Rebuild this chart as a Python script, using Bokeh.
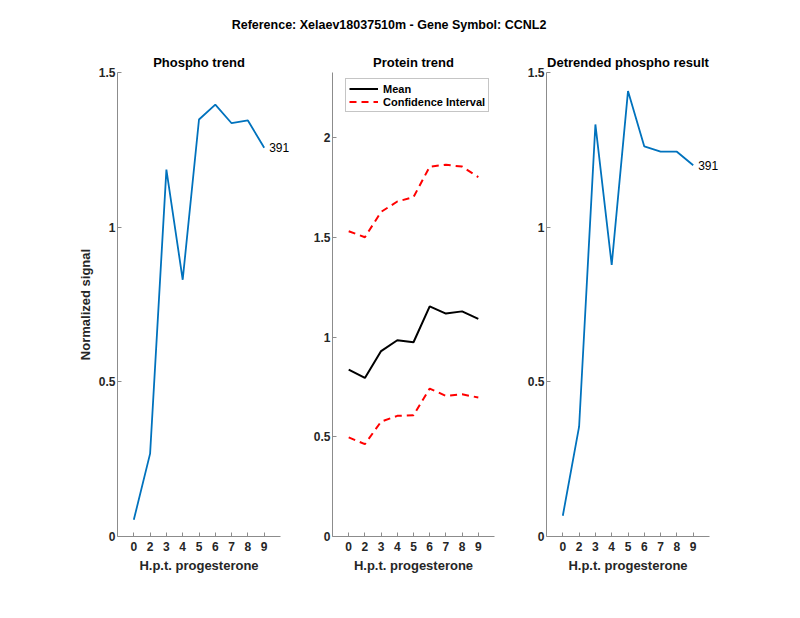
from bokeh.plotting import figure
from bokeh.layouts import column, row
from bokeh.models import Range1d, FixedTicker, Legend, LegendItem
from bokeh.core.properties import value
from bokeh.embed import file_html
from bokeh.resources import INLINE

# ---------------- data ----------------
suptitle = "Reference:  Xelaev18037510m - Gene Symbol:  CCNL2"
hpt_labels = ["0", "2", "3", "4", "5", "6", "7", "8", "9"]
phospho = [0.054, 0.268, 1.186, 0.830, 1.348, 1.396, 1.336, 1.345, 1.257]
protein_mean = [0.837, 0.795, 0.930, 0.984, 0.974, 1.154, 1.118, 1.129, 1.091]
ci_upper = [1.531, 1.501, 1.628, 1.680, 1.702, 1.855, 1.864, 1.855, 1.802]
ci_lower = [0.497, 0.463, 0.576, 0.605, 0.608, 0.742, 0.705, 0.713, 0.697]
detrended = [0.067, 0.355, 1.332, 0.878, 1.440, 1.261, 1.244, 1.244, 1.200]
site_label = "391"
phospho_yticks = [0, 0.5, 1, 1.5]
protein_yticks = [0, 0.5, 1, 1.5, 2]
phospho_ymax = 1.5
protein_ymax = 2.327

x = list(range(1, len(hpt_labels) + 1))

FONT = "Liberation Sans"
AX = "#8c8c8c"
TXT = "#262626"
BLUE = "#0072BD"
ROW_H = 562


def panel(width, left, right, y_end, yticks, title):
    p = figure(width=width, height=ROW_H, x_range=Range1d(0, 10), y_range=Range1d(0, y_end),
               output_backend="svg", toolbar_location=None,
               min_border_left=left, min_border_right=right,
               min_border_top=32, min_border_bottom=ROW_H - 32 - 464)
    p.outline_line_color = None
    p.xgrid.visible = False
    p.ygrid.visible = False
    p.title.text = title
    p.title.text_font = FONT
    p.title.text_font_size = "13px"
    p.title.text_font_style = "bold"
    p.title.text_color = "#000000"
    p.title.align = "center"
    p.title.standoff = 5
    for ax in (p.xaxis[0], p.yaxis[0]):
        ax.axis_line_color = AX
        ax.major_tick_line_color = AX
        ax.major_tick_in = 4
        ax.major_tick_out = 0
        ax.minor_tick_line_color = None
        ax.major_label_text_font = FONT
        ax.major_label_text_font_size = "12px"
        ax.major_label_text_font_style = "bold"
        ax.major_label_text_color = TXT
        ax.axis_label_text_font = FONT
        ax.axis_label_text_font_size = "13px"
        ax.axis_label_text_font_style = "bold"
        ax.axis_label_text_color = TXT
    p.xaxis.ticker = FixedTicker(ticks=x)
    p.xaxis.major_label_overrides = {xi: lab for xi, lab in zip(x, hpt_labels)}
    p.xaxis.axis_label = "H.p.t. progesterone"
    p.xaxis.major_label_standoff = 5
    p.xaxis.axis_label_standoff = 4
    p.yaxis.ticker = FixedTicker(ticks=yticks)
    p.yaxis.major_label_overrides = {t: f"{t:g}" for t in yticks}
    p.yaxis.major_label_standoff = 2
    p.yaxis.axis_label_standoff = 3
    return p


# header with the overall title
head = figure(width=784, height=40, x_range=Range1d(0, 1), y_range=Range1d(0, 40),
              output_backend="svg", toolbar_location=None, min_border=0,
              x_axis_location=None, y_axis_location=None)
head.outline_line_color = None
head.xgrid.visible = False
head.ygrid.visible = False
head.text(x=[0.5], y=[16], text=[suptitle], text_align="center", text_baseline="middle",
          text_font=value(FONT), text_font_size="12.5px", text_font_style="bold",
          text_color="#000000")

# panel 1: phospho trend
f1 = panel(303, 117, 23, phospho_ymax, phospho_yticks, "Phospho trend")
f1.yaxis.axis_label = "Normalized signal"
f1.line(x, phospho, line_color=BLUE, line_width=1.8)
f1.text(x=[x[-1]], y=[phospho[-1]], text=[site_label], x_offset=5, text_align="left",
        text_baseline="middle", text_font=value(FONT), text_font_size="12px",
        text_color="#000000", level="annotation")

# panel 2: protein trend
f2 = panel(214, 29, 23, protein_ymax, protein_yticks, "Protein trend")
r_mean = f2.line(x, protein_mean, line_color="#000000", line_width=2)
r_up = f2.line(x, ci_upper, line_color="#FF0000", line_width=2, line_dash="7 5")
f2.line(x, ci_lower, line_color="#FF0000", line_width=2, line_dash="7 5")
legend = Legend(items=[LegendItem(label="Mean", renderers=[r_mean]),
                       LegendItem(label="Confidence Interval", renderers=[r_up])],
                location=(13, 424))
legend.margin = 0
legend.padding = 3
legend.spacing = 0
legend.glyph_width = 29
legend.glyph_height = 13
legend.label_height = 13
legend.label_standoff = 5
legend.label_text_font = FONT
legend.label_text_font_size = "11px"
legend.label_text_font_style = "bold"
legend.label_text_color = "#000000"
legend.border_line_color = AX
legend.border_line_width = 1
legend.background_fill_color = "#ffffff"
legend.background_fill_alpha = 1
f2.add_layout(legend)

# panel 3: detrended phospho
f3 = panel(267, 29, 75, phospho_ymax, phospho_yticks, "Detrended phospho result")
f3.line(x, detrended, line_color=BLUE, line_width=1.8)
f3.text(x=[x[-1]], y=[detrended[-1]], text=[site_label], x_offset=5, text_align="left",
        text_baseline="middle", text_font=value(FONT), text_font_size="12px",
        text_color="#000000", level="annotation")

layout = column(head, row(f1, f2, f3))
open("out.html", "w").write(file_html(layout, INLINE))
